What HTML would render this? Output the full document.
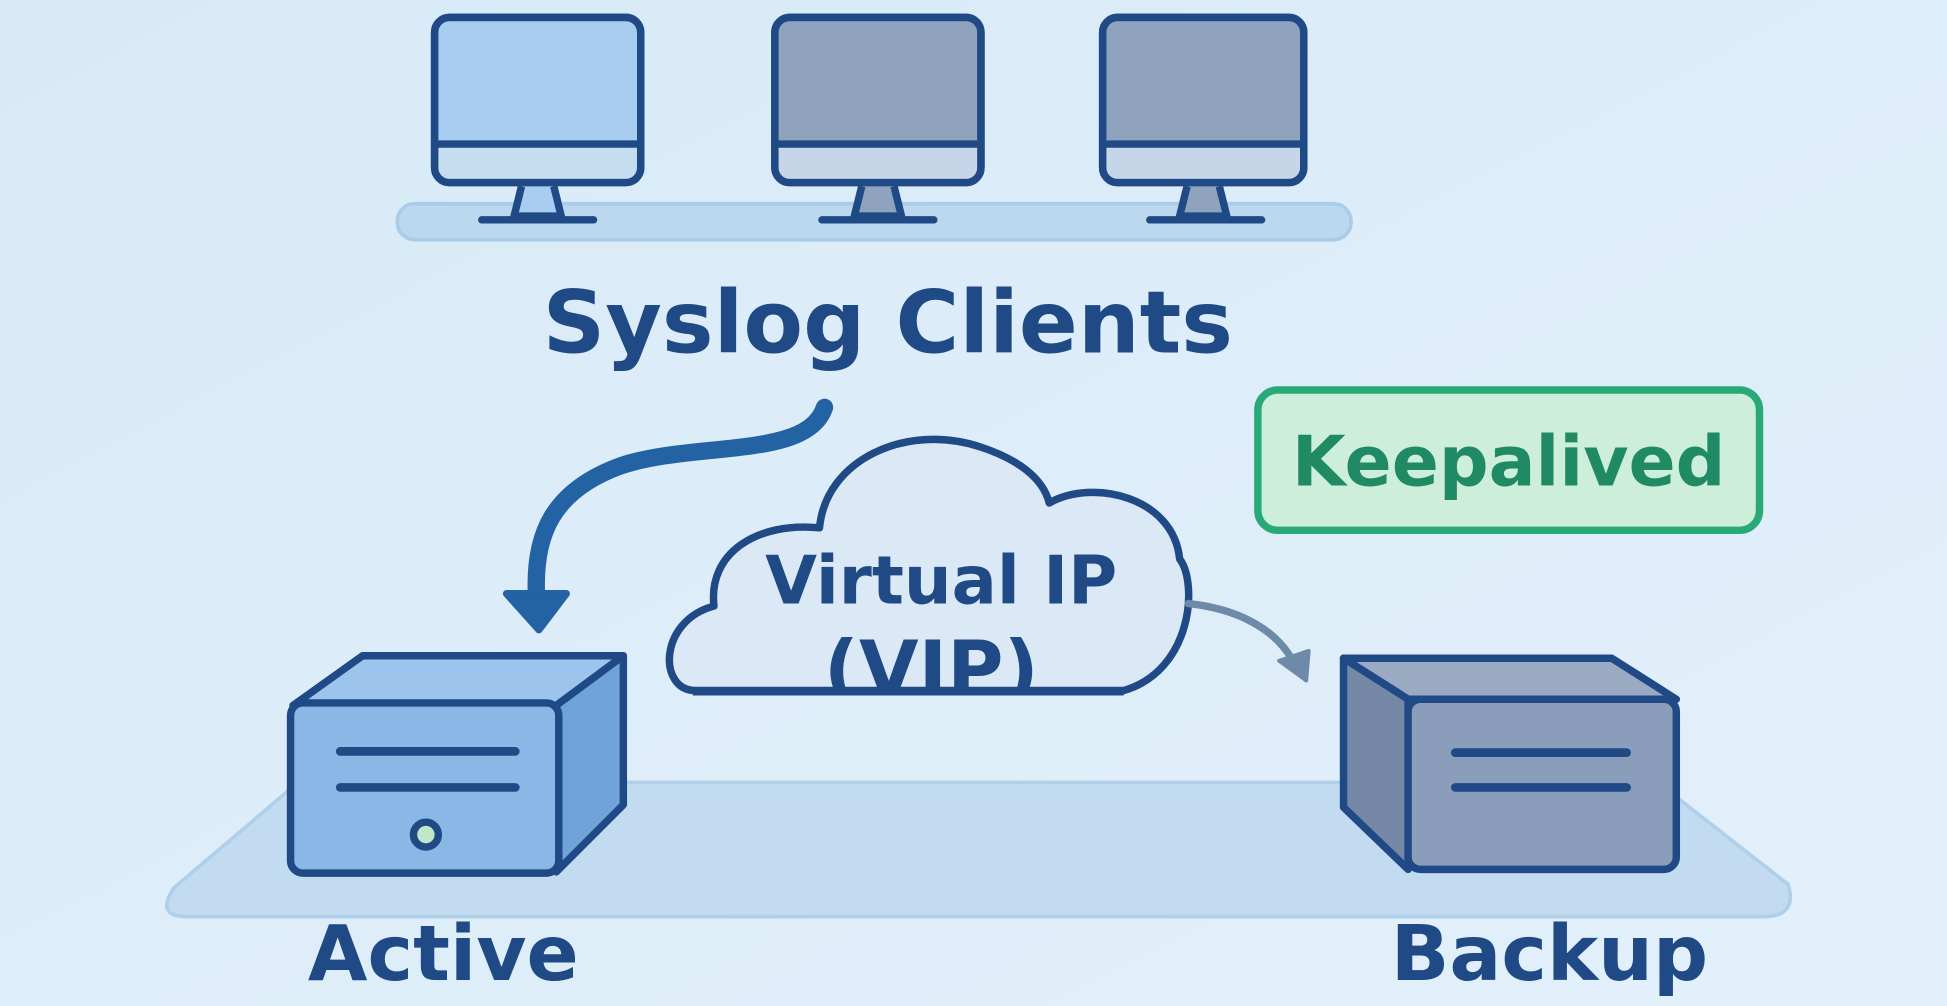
<!DOCTYPE html>
<html><head><meta charset="utf-8"><style>
html,body{margin:0;padding:0;width:1947px;height:1006px;overflow:hidden;background:#dcecf8}
svg{display:block}
text{font-family:"DejaVu Sans","Liberation Sans",sans-serif;font-weight:bold}
</style></head><body>
<svg width="1947" height="1006" viewBox="0 0 1568 810" preserveAspectRatio="none">
<defs>
<linearGradient id="bg" x1="0" y1="0" x2="1" y2="1"><stop offset="0" stop-color="#d8eaf8"/><stop offset="1" stop-color="#e2f0fa"/></linearGradient>
<clipPath id="cc"><rect x="500" y="340" width="470" height="216"/></clipPath>
</defs>
<rect width="1568" height="810" fill="url(#bg)"/>
<rect x="320" y="164" width="768" height="29" rx="14" fill="#bcd8ef" stroke="#a9cce8" stroke-width="3"/>
<g stroke="#1f4a85" stroke-width="6" stroke-linejoin="round">
 <g>
  <path d="M420 150 L414 174 L452 174 L446 150" fill="#a9cdf0"/>
  <line x1="388" y1="177" x2="478" y2="177" stroke-linecap="round"/>
  <rect x="350" y="14" width="166" height="133" rx="12" fill="#a9cdf0"/>
  <path d="M353 116 H513 V135 Q513 144 504 144 H362 Q353 144 353 135 Z" fill="#c6dcef" stroke="none"/>
  <line x1="350" y1="116" x2="516" y2="116"/>
  <rect x="350" y="14" width="166" height="133" rx="12" fill="none"/>
 </g>
 <g>
  <path d="M694 150 L688 174 L726 174 L720 150" fill="#8fa3be"/>
  <line x1="662" y1="177" x2="752" y2="177" stroke-linecap="round"/>
  <rect x="624" y="14" width="166" height="133" rx="12" fill="#8fa3be"/>
  <path d="M627 116 H787 V135 Q787 144 778 144 H636 Q627 144 627 135 Z" fill="#c6d6e8" stroke="none"/>
  <line x1="624" y1="116" x2="790" y2="116"/>
  <rect x="624" y="14" width="166" height="133" rx="12" fill="none"/>
 </g>
 <g>
  <path d="M956 150 L950 174 L988 174 L982 150" fill="#8fa3be"/>
  <line x1="926" y1="177" x2="1016" y2="177" stroke-linecap="round"/>
  <rect x="888" y="14" width="162" height="133" rx="12" fill="#8fa3be"/>
  <path d="M891 116 H1047 V135 Q1047 144 1038 144 H900 Q891 144 891 135 Z" fill="#c6d6e8" stroke="none"/>
  <line x1="888" y1="116" x2="1050" y2="116"/>
  <rect x="888" y="14" width="162" height="133" rx="12" fill="none"/>
 </g>
</g>
<text x="715" y="284" text-anchor="middle" font-size="70" fill="#1f4a85">Syslog Clients</text>
<path d="M240 630 L1335 630 L1440 712 Q1448 738 1420 738 L150 738 Q125 738 140 715 Z" fill="#c2dbf0" stroke="#b0cfe9" stroke-width="3"/>
<path d="M664 328 C650 370 560 355 500 375 C445 395 430 430 432 478" fill="none" stroke="#2363a3" stroke-width="14" stroke-linecap="round"/>
<path d="M408 478 L456 478 L434 507 Z" fill="#2363a3" stroke="#2363a3" stroke-width="6" stroke-linejoin="round"/>
<path d="M560 556 C530 556 530 500 575 488 C570 445 610 420 660 425 C665 370 730 340 790 360 C820 370 840 385 845 405 C880 385 945 400 950 450 C965 470 960 540 905 556 Z" fill="#dbe9f6" stroke="#1f4a85" stroke-width="6" stroke-linejoin="round"/>
<text x="758" y="486" text-anchor="middle" font-size="54" fill="#1f4a85">Virtual IP</text>
<text x="750" y="560" text-anchor="middle" font-size="62" fill="#1f4a85" clip-path="url(#cc)">(VIP)</text>
<line x1="558" y1="557" x2="905" y2="557" stroke="#1f4a85" stroke-width="6"/>
<path d="M957 486 C995 490 1025 505 1040 530" fill="none" stroke="#6f8aa8" stroke-width="6" stroke-linecap="round"/>
<path d="M1030 532 L1054 524 L1052 548 Z" fill="#6f8aa8" stroke="#6f8aa8" stroke-width="3" stroke-linejoin="round"/>
<rect x="1013" y="314" width="404" height="113" rx="16" fill="#cdeeda" stroke="#2aa978" stroke-width="6"/>
<text x="1215" y="391" text-anchor="middle" font-size="56" fill="#1f8a63">Keepalived</text>
<g stroke="#1f4a85" stroke-width="6" stroke-linejoin="round">
 <path d="M236 568 L292 528 L502 528 L448 568 Z" fill="#9cc4ec"/>
 <path d="M448 568 L502 528 L502 648 L448 702 Z" fill="#6fa3d9"/>
 <rect x="234" y="566" width="216" height="137" rx="10" fill="#8ab8e6"/>
 <line x1="274" y1="605" x2="415" y2="605" stroke-linecap="round" stroke-width="7"/>
 <line x1="274" y1="634" x2="415" y2="634" stroke-linecap="round" stroke-width="7"/>
 <circle cx="343" cy="672" r="10" fill="#bfe8c8"/>
</g>
<g stroke="#1f4a85" stroke-width="6" stroke-linejoin="round">
 <path d="M1082 530 L1298 530 L1350 563 L1134 563 Z" fill="#9aaac2"/>
 <path d="M1082 530 L1134 563 L1134 700 L1082 650 Z" fill="#7588a6"/>
 <rect x="1134" y="563" width="216" height="137" rx="10" fill="#8a9ebb"/>
 <line x1="1172" y1="606" x2="1310" y2="606" stroke-linecap="round" stroke-width="7"/>
 <line x1="1172" y1="634" x2="1310" y2="634" stroke-linecap="round" stroke-width="7"/>
</g>
<text x="248" y="789" font-size="62" fill="#1f4a85">Active</text>
<text x="1120" y="789" font-size="62" fill="#1f4a85">Backup</text>
</svg>
</body></html>
